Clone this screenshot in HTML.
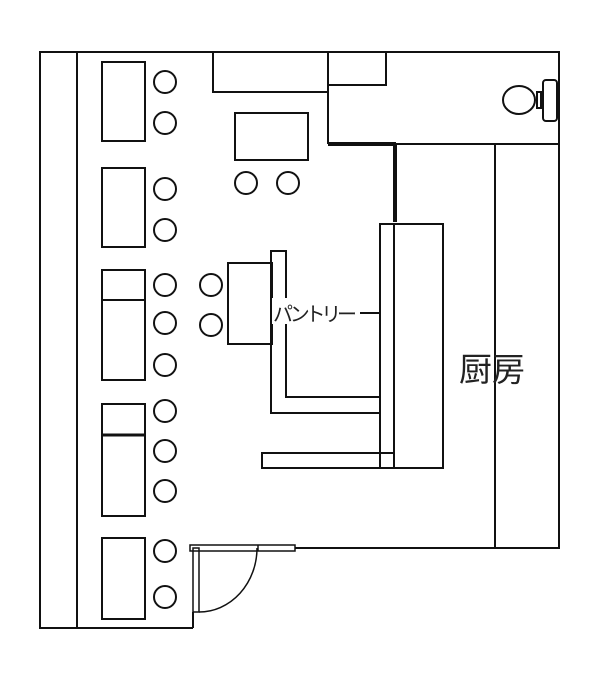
<!DOCTYPE html>
<html><head><meta charset="utf-8"><style>body{margin:0;background:#fff}svg{display:block}</style></head><body>
<svg width="600" height="689" viewBox="0 0 600 689" xmlns="http://www.w3.org/2000/svg" fill="none" stroke="#111" stroke-width="2">
<polyline points="193,628 40,628 40,52 559,52 559,548 295,548"/>
<line x1="77" y1="52" x2="77" y2="628"/>
<line x1="193" y1="612" x2="193" y2="628"/>
<rect x="213" y="52" width="115" height="40"/>
<rect x="328" y="52" width="58" height="33"/>
<line x1="328" y1="92" x2="328" y2="144"/>
<line x1="328" y1="144" x2="559" y2="144"/>
<line x1="328" y1="144" x2="396" y2="144" stroke-width="4"/>
<line x1="395" y1="144" x2="395" y2="222" stroke-width="4"/>
<line x1="495" y1="144" x2="495" y2="548"/>
<ellipse cx="519" cy="100" rx="16" ry="14"/>
<rect x="537" y="92" width="4" height="16"/>
<rect x="543" y="80" width="14" height="41" rx="3"/>
<rect x="235" y="113" width="73" height="47"/>
<circle cx="246" cy="183" r="11"/><circle cx="288" cy="183" r="11"/>
<rect x="102" y="62" width="43" height="79"/>
<rect x="102" y="168" width="43" height="79"/>
<rect x="102" y="270" width="43" height="110"/>
<line x1="102" y1="300" x2="145" y2="300"/>
<rect x="102" y="404" width="43" height="112"/>
<line x1="102" y1="435" x2="145" y2="435" stroke-width="3"/>
<rect x="102" y="538" width="43" height="81"/>
<g>
<circle cx="165" cy="82" r="11"/><circle cx="165" cy="123" r="11"/>
<circle cx="165" cy="189" r="11"/><circle cx="165" cy="230" r="11"/>
<circle cx="165" cy="285" r="11"/><circle cx="165" cy="323" r="11"/><circle cx="165" cy="365" r="11"/>
<circle cx="165" cy="411" r="11"/><circle cx="165" cy="451" r="11"/><circle cx="165" cy="491" r="11"/>
<circle cx="165" cy="551" r="11"/><circle cx="165" cy="597" r="11"/>
<circle cx="211" cy="285" r="11"/><circle cx="211" cy="325" r="11"/>
</g>
<rect x="228" y="263" width="44" height="81"/>
<polyline points="380,413 271,413 271,251 286,251 286,397 380,397"/>
<rect x="380" y="224" width="63" height="244"/>
<line x1="394" y1="224" x2="394" y2="468"/>
<rect x="262" y="453" width="132" height="15"/>
<line x1="360" y1="313" x2="380" y2="313"/>
<rect x="272" y="298" width="86" height="26" fill="#fff" stroke="none"/>
<text x="273" y="321" font-family="Liberation Sans, Noto Sans CJK JP, sans-serif" font-size="20" fill="#222" stroke="none" textLength="84">パントリー</text>
<rect x="190" y="545" width="105" height="6" stroke-width="1.5"/>
<line x1="258" y1="545" x2="258" y2="551" stroke-width="1.5"/>
<rect x="193" y="548" width="6" height="64" stroke-width="1.5"/>
<path d="M199 612 A58 64 0 0 0 257 548" stroke-width="1.5"/>
<text x="459" y="381" font-family="Liberation Sans, Noto Sans CJK JP, sans-serif" font-size="33" fill="#222" stroke="none">厨房</text>
</svg>
</body></html>
